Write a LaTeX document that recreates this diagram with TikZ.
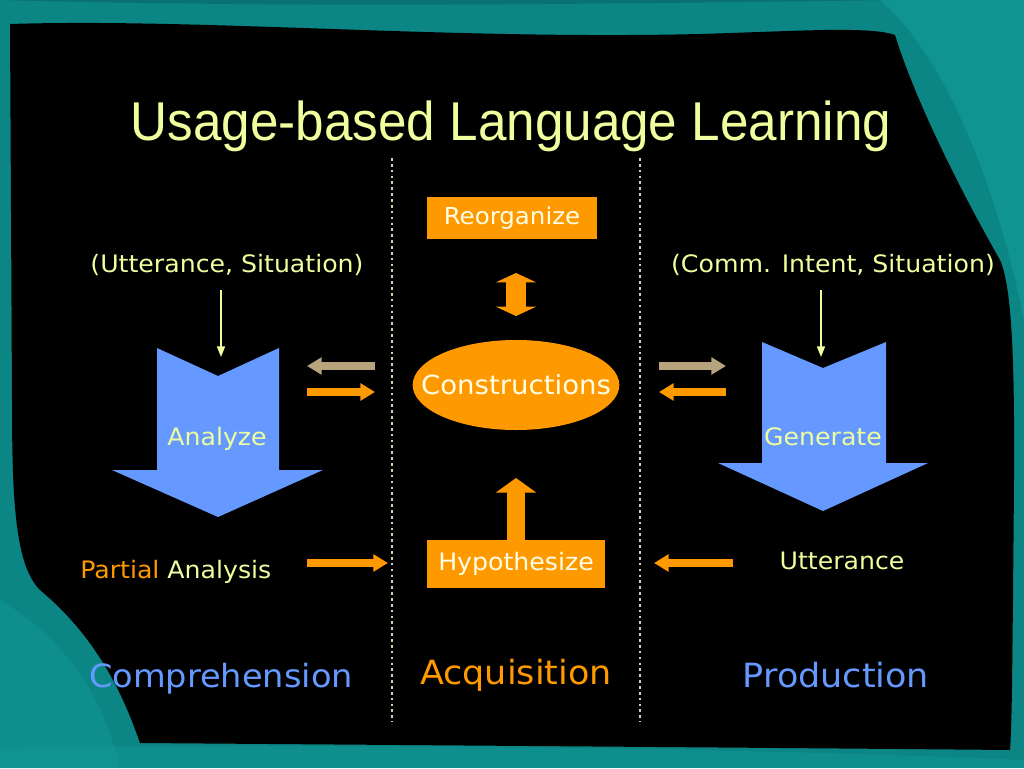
\documentclass[tikz,border=0pt]{standalone}
\usepackage{fontspec}
\setmainfont{DejaVu Sans}[FakeStretch=1.05]
\newfontfamily\titlefont{Liberation Sans}[FakeStretch=0.937]
\usetikzlibrary{arrows.meta,shapes.geometric}
\definecolor{tealA}{HTML}{0C8585}
\definecolor{tealB}{HTML}{13A3A0}
\definecolor{tealC}{HTML}{085F63}
\definecolor{ylw}{HTML}{EEFF9E}
\definecolor{orng}{HTML}{FF9900}
\definecolor{blu}{HTML}{6699FF}
\definecolor{tan}{HTML}{B8A47C}
\definecolor{wht}{HTML}{FFFFE8}
\definecolor{dotc}{HTML}{D6CEB8}
\tikzset{
  fs/.style={font=\fontsize{#1}{#1}\selectfont},
  lbl/.style={text=ylw, fs=18pt, inner sep=0pt, anchor=base},
  big/.style={fs=25pt, inner sep=0pt, anchor=base},
  obox/.style={fill=orng, text=wht, fs=17.5pt, inner sep=0pt},
  fat/.style={line width=6pt, -{Triangle[width=12.5pt,length=11pt]}},
  thin/.style={draw=ylw, line width=1.3pt, -{Triangle[width=6pt,length=8pt]}},
  sep/.style={draw=dotc, line width=2pt, dash pattern=on 2pt off 2.4pt},
  chev/.style={fill=blu}
}
\begin{document}
\begin{tikzpicture}[x=0.75pt,y=-0.75pt]
\useasboundingbox (0,0) rectangle (1024,768);
% background
\fill[tealA] (0,0) rectangle (1024,768);
\fill[tealB,opacity=0.5] (880,0) .. controls (950,60) and (1000,200) .. (1024,320) -- (1024,0) -- cycle;
\fill[tealC,opacity=0.5] (0,0) .. controls (300,8) and (600,4) .. (900,0) -- cycle;
\fill[tealB,opacity=0.3] (0,600) .. controls (50,630) and (100,680) .. (120,768) -- (0,768) -- cycle;
\fill[tealB,opacity=0.3] (0,748) .. controls (300,744) and (700,746) .. (1024,760) -- (1024,768) -- (0,768) -- cycle;
\fill[black] (10,24) .. controls (200,18) and (450,40) .. (700,34)
  .. controls (800,31) and (870,26) .. (895,35)
  .. controls (915,100) and (960,190) .. (1000,260)
  .. controls (1018,300) and (1014,450) .. (1013,600)
  .. controls (1012,680) and (1012,720) .. (1010,750)
  .. controls (800,748) and (400,745) .. (140,743)
  .. controls (125,700) and (100,640) .. (40,590)
  .. controls (15,565) and (12,500) .. (12,400)
  -- cycle;
% title
\node[text=ylw, inner sep=0pt, anchor=base, font=\titlefont\fontsize{41pt}{41pt}\selectfont] (title) at (511,140) {Usage-based Language Learning};
% separators
\coordinate (s1a) at (392,158); \coordinate (s1b) at (392,722);
\coordinate (s2a) at (640,158); \coordinate (s2b) at (640,722);
\draw[sep] (s1a) -- (s1b);
\draw[sep] (s2a) -- (s2b);
% blue chevrons
\fill[chev] (157,348) -- (218,376) -- (279,348) -- (279,470) -- (323,470) -- (218,517) -- (112,470) -- (157,470) -- cycle;
\fill[chev] (762,342) -- (823,368) -- (886,342) -- (886,463) -- (928,463) -- (823,511) -- (718,463) -- (762,463) -- cycle;
% labels
\node[lbl] (utsit) at (227,272) {(Utterance, Situation)};
\node[lbl] (comsit) at (833,272) {(Comm. Intent, Situation)};
\node[lbl] (analyze) at (217,445) {Analyze};
\node[lbl] (generate) at (823,445) {Generate};
\node[lbl, anchor=base west] (partial) at (80,578) {\color{orng}Partial \color{ylw}Analysis};
\node[lbl] (utt) at (842,569) {Utterance};
\node[big, text=blu, fs=24pt] (comp) at (221,687) {Comprehension};
\node[big, text=orng] (acq) at (516,684) {Acquisition};
\node[big, text=blu] (prod) at (836,687) {Production};
% central nodes
\node[obox, minimum width=127.5pt, minimum height=31.5pt] (reorg) at (512,218) {Reorganize};
\node[ellipse, fill=orng, inner sep=0pt, minimum width=155pt, minimum height=67.5pt,
  label={[text=wht, fs=19.7pt, inner sep=0pt]center:Constructions}] (cons) at (516,385) {};
\node[obox, fs=18pt, minimum width=133.5pt, minimum height=36pt] (hyp) at (516,564) {Hypothesize};
% yellow input arrows
\coordinate (ya1) at (221,290); \coordinate (ya2) at (221,357);
\coordinate (yb1) at (821,290); \coordinate (yb2) at (821,357);
\draw[thin] (ya1) -- (ya2);
\draw[thin] (yb1) -- (yb2);
% side arrows
\coordinate (l1a) at (375,366); \coordinate (l1b) at (307,366);
\coordinate (l2a) at (307,392); \coordinate (l2b) at (375,392);
\coordinate (r1a) at (659,366); \coordinate (r1b) at (726,366);
\coordinate (r2a) at (726,392); \coordinate (r2b) at (659,392);
\draw[fat, draw=tan] (l1a) -- (l1b);
\draw[fat, draw=orng] (l2a) -- (l2b);
\draw[fat, draw=tan] (r1a) -- (r1b);
\draw[fat, draw=orng] (r2a) -- (r2b);
% bottom arrows
\coordinate (b1a) at (307,563); \coordinate (b1b) at (388,563);
\coordinate (b2a) at (733,563); \coordinate (b2b) at (654,563);
\draw[fat, draw=orng] (b1a) -- (b1b);
\draw[fat, draw=orng] (b2a) -- (b2b);
% vertical orange arrows
\coordinate (da) at (516,273); \coordinate (db) at (516,316);
\draw[draw=orng, line width=15pt, {Triangle[width=30pt,length=7pt]}-{Triangle[width=30pt,length=7pt]}] (da) -- (db);
\coordinate (up) at (516,478);
\draw[draw=orng, line width=14pt, -{Triangle[width=30pt,length=11pt]}] (hyp.north) -- (up);
\end{tikzpicture}
\end{document}
